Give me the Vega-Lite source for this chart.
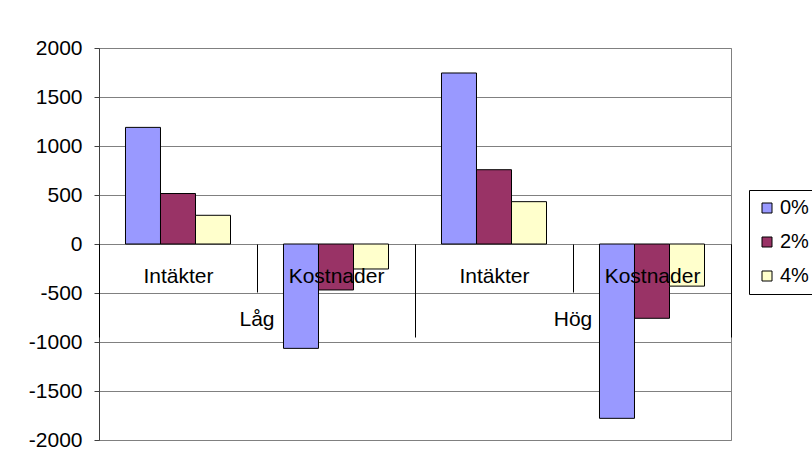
{
  "$schema": "https://vega.github.io/schema/vega-lite/v6.json",
  "width": 632,
  "height": 392,
  "autosize": "none",
  "padding": {"left": 99, "top": 48, "right": 81, "bottom": 28},
  "background": "white",
  "config": {
    "font": "Liberation Sans",
    "view": {"stroke": "#808080", "strokeWidth": 1}
  },
  "layer": [
    {
      "data": {
        "values": [
          {"group": "Låg", "sub": "Intäkter", "cat": "Låg Intäkter", "series": "0%", "value": 1190},
          {"group": "Låg", "sub": "Intäkter", "cat": "Låg Intäkter", "series": "2%", "value": 515},
          {"group": "Låg", "sub": "Intäkter", "cat": "Låg Intäkter", "series": "4%", "value": 293},
          {"group": "Låg", "sub": "Kostnader", "cat": "Låg Kostnader", "series": "0%", "value": -1065},
          {"group": "Låg", "sub": "Kostnader", "cat": "Låg Kostnader", "series": "2%", "value": -469},
          {"group": "Låg", "sub": "Kostnader", "cat": "Låg Kostnader", "series": "4%", "value": -255},
          {"group": "Hög", "sub": "Intäkter", "cat": "Hög Intäkter", "series": "0%", "value": 1745},
          {"group": "Hög", "sub": "Intäkter", "cat": "Hög Intäkter", "series": "2%", "value": 758},
          {"group": "Hög", "sub": "Intäkter", "cat": "Hög Intäkter", "series": "4%", "value": 432},
          {"group": "Hög", "sub": "Kostnader", "cat": "Hög Kostnader", "series": "0%", "value": -1779},
          {"group": "Hög", "sub": "Kostnader", "cat": "Hög Kostnader", "series": "2%", "value": -758},
          {"group": "Hög", "sub": "Kostnader", "cat": "Hög Kostnader", "series": "4%", "value": -430}
        ]
      },
      "mark": {"type": "bar", "stroke": "black", "strokeWidth": 1},
      "encoding": {
        "x": {
          "field": "cat",
          "type": "nominal",
          "sort": ["Låg Intäkter", "Låg Kostnader", "Hög Intäkter", "Hög Kostnader"],
          "scale": {"type": "band", "paddingInner": 0, "paddingOuter": 0},
          "axis": {
            "orient": "bottom",
            "title": null,
            "offset": -196,
            "domain": false,
            "grid": false,
            "ticks": true,
            "tickBand": "extent",
            "tickSize": 48,
            "tickColor": "black",
            "tickWidth": 1,
            "labelExpr": "substring(datum.label, indexof(datum.label, ' ') + 1)",
            "labelFont": "Liberation Sans",
            "labelFontSize": 21,
            "labelColor": "black",
            "labelBaseline": "middle",
            "labelPadding": -16,
            "labelAngle": 0,
            "zindex": 1
          }
        },
        "xOffset": {
          "field": "series",
          "type": "nominal",
          "sort": ["0%", "2%", "4%"],
          "scale": {"paddingInner": 0, "paddingOuter": 0.757}
        },
        "y": {
          "field": "value",
          "type": "quantitative",
          "scale": {"domain": [-2000, 2000], "nice": false},
          "axis": {
            "title": null,
            "values": [-2000, -1500, -1000, -500, 0, 500, 1000, 1500, 2000],
            "labelExpr": "'' + datum.value",
            "grid": true,
            "gridColor": "#808080",
            "gridWidth": 1,
            "domainColor": "#404040",
            "tickColor": "#404040",
            "tickSize": 5,
            "labelFont": "Liberation Sans",
            "labelFontSize": 21,
            "labelPadding": 12,
            "labelColor": "black",
            "zindex": 0
          }
        },
        "color": {
          "field": "series",
          "type": "nominal",
          "scale": {"domain": ["0%", "2%", "4%"], "range": ["#9999FF", "#993366", "#FFFFCC"]},
          "legend": {
            "title": null,
            "orient": "none",
            "legendX": 650,
            "legendY": 142,
            "strokeColor": "black",
            "fillColor": "white",
            "padding": 8,
            "symbolType": "square",
            "symbolSize": 100,
            "symbolStrokeColor": "black",
            "symbolStrokeWidth": 1,
            "labelFont": "Liberation Sans",
            "labelFontSize": 20,
            "labelColor": "black",
            "labelOffset": 3,
            "rowPadding": 14
          }
        }
      }
    },
    {
      "data": {"values": [{"group": "Låg"}, {"group": "Hög"}]},
      "mark": {"type": "text", "fontSize": 21, "color": "black", "baseline": "middle", "align": "center", "font": "Liberation Sans"},
      "encoding": {
        "x": {
          "field": "group",
          "type": "nominal",
          "sort": ["Låg", "Hög"],
          "scale": {"type": "band", "paddingInner": 0, "paddingOuter": 0},
          "axis": {
            "orient": "bottom",
            "title": null,
            "offset": -196,
            "domain": false,
            "grid": false,
            "labels": false,
            "ticks": true,
            "tickBand": "extent",
            "tickSize": 93,
            "tickColor": "black",
            "tickWidth": 1,
            "zindex": 1
          }
        },
        "y": {"datum": -780, "type": "quantitative"},
        "text": {"field": "group"}
      }
    }
  ],
  "resolve": {"scale": {"x": "independent"}, "axis": {"x": "independent"}}
}
